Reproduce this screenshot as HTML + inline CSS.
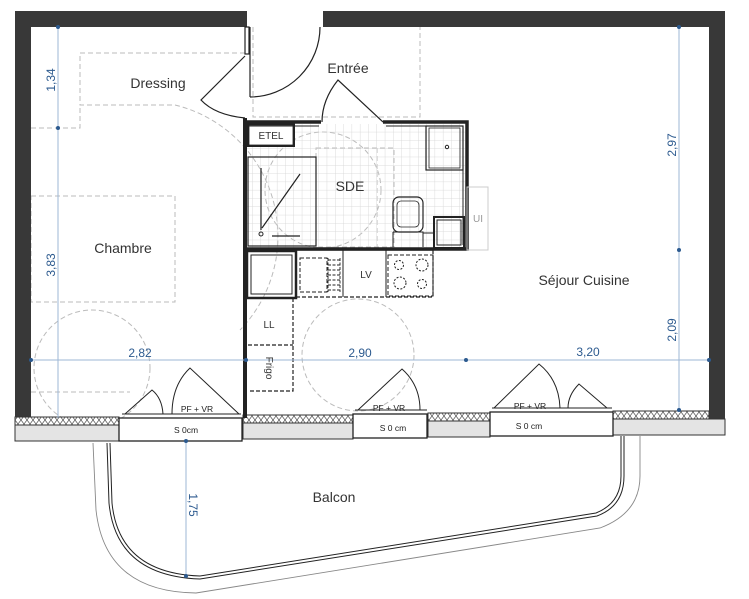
<!DOCTYPE html>
<html><head><meta charset="utf-8"><style>
html,body{margin:0;padding:0;background:#fff;}
svg{display:block;}
text{font-family:"Liberation Sans","DejaVu Sans",sans-serif;}
</style></head><body>
<svg width="749" height="599" viewBox="0 0 749 599" xmlns="http://www.w3.org/2000/svg">
<defs>
<pattern id="grid" width="8.3" height="8.3" patternUnits="userSpaceOnUse" x="294" y="124">
<path d="M8.3 0V8.3H0" fill="none" stroke="#d4d4d4" stroke-width="0.8"/>
</pattern>
<pattern id="hatch" width="6" height="8" patternUnits="userSpaceOnUse">
<rect width="6" height="8" fill="#fff"/>
<path d="M0 0L3 4L0 8M6 0L3 4L6 8" fill="none" stroke="#555" stroke-width="0.7"/>
</pattern>
</defs>

<!-- dashed furniture / circles -->
<g fill="none" stroke="#bbb" stroke-width="1" stroke-dasharray="5,3">
<path d="M245 53H80V105H175"/>
<path d="M31 128H80V105"/>
<path d="M253 27V117H420V27"/>
<rect x="31" y="196" width="144" height="106"/>
<path d="M175 105 A135 135 0 0 1 240 330"/>
<circle cx="92" cy="368" r="58"/>
<path d="M31 392H130"/>
<circle cx="323" cy="190" r="58"/>
<rect x="316" y="148" width="78" height="99"/>
<path d="M377 148V247"/>
<circle cx="358" cy="355" r="56"/>
</g>

<!-- SDE tiles -->
<rect x="247" y="124" width="218" height="124" fill="url(#grid)"/>
<rect x="248" y="124" width="46" height="23" fill="#fff"/>

<!-- top wall -->
<rect x="15" y="11" width="232" height="16" fill="#383838"/>
<rect x="323" y="11" width="402" height="16" fill="#383838"/>
<!-- left wall -->
<rect x="15" y="11" width="16" height="416" fill="#383838"/>
<!-- right wall -->
<rect x="709" y="11" width="16" height="408" fill="#383838"/>

<!-- bottom walls -->
<rect x="15" y="417" width="104" height="8" fill="url(#hatch)" stroke="#333" stroke-width="1"/>
<rect x="15" y="425" width="104" height="16" fill="#e4e4e4" stroke="#333" stroke-width="1"/>
<rect x="243" y="415" width="110" height="8" fill="url(#hatch)" stroke="#333" stroke-width="1"/>
<rect x="243" y="423" width="110" height="16" fill="#e4e4e4" stroke="#333" stroke-width="1"/>
<rect x="428" y="413" width="62" height="8" fill="url(#hatch)" stroke="#333" stroke-width="1"/>
<rect x="428" y="421" width="62" height="16" fill="#e4e4e4" stroke="#333" stroke-width="1"/>
<rect x="613" y="411" width="96" height="8" fill="url(#hatch)" stroke="#333" stroke-width="1"/>
<rect x="613" y="419" width="112" height="16" fill="#e4e4e4" stroke="#333" stroke-width="1"/>

<!-- windows -->
<g fill="#fff" stroke="#222" stroke-width="1.3">
<rect x="119" y="418" width="123" height="23"/>
<rect x="353" y="414" width="74" height="24"/>
<rect x="490" y="412" width="123" height="24"/>
</g>
<g fill="none" stroke="#222" stroke-width="1">
<path d="M122 414H241M122 418H241M355 410H427M355 414H427M492 408H612M492 412H612"/>
<!-- window 1 leaves -->
<path d="M125 414L152 390Q162 398 163 414"/>
<path d="M239 414L190 368Q172 385 172 414"/>
<!-- window 2 -->
<path d="M358 410L402 369Q420 385 420 410"/>
<!-- window 3 -->
<path d="M494 408L539 364Q559 380 560 408"/>
<path d="M607 408L579 384Q568 395 568 408"/>
</g>
<g font-size="8.5" fill="#222" text-anchor="middle">
<text x="197" y="412">PF + VR</text>
<text x="186" y="433">S 0cm</text>
<text x="389" y="411">PF + VR</text>
<text x="393" y="431">S 0 cm</text>
<text x="530" y="409">PF + VR</text>
<text x="529" y="429">S 0 cm</text>
</g>

<!-- entrance door -->
<g fill="none" stroke="#222" stroke-width="1.2">
<path d="M250 27V97"/>
<path d="M250 97 A70 70 0 0 0 320 27"/>
<rect x="245" y="27" width="4" height="27" fill="#fff"/>
<!-- dressing door -->
<path d="M245 56L201 100Q215 115 245 118"/>
<!-- SDE door -->
<path d="M383 122L338 80Q322 100 322 122"/>
</g>

<!-- SDE block walls -->
<g fill="none" stroke="#222">
<path d="M245 118V418" stroke-width="4"/>
<path d="M245 122H321M383 122H467V249H245" stroke-width="3.5"/>
<path d="M249 126H319M386 126H463V245" stroke-width="1"/>
<rect x="248" y="124" width="46" height="22" stroke-width="2"/>
<rect x="249" y="125" width="44" height="20" stroke-width="0.8"/>
<rect x="248" y="157" width="68" height="89" stroke-width="1.2"/>
<path d="M261 168V230M262 228L300 174M272 236H300" stroke-width="1.2"/>
<circle cx="261" cy="234" r="2" stroke-width="1"/>
<rect x="426" y="126" width="37" height="44" stroke-width="1.2"/>
<rect x="429" y="128" width="31" height="40" stroke-width="0.8"/>
<circle cx="447" cy="147" r="1.7" stroke-width="1"/>
<rect x="393" y="197" width="30" height="35" rx="6" stroke-width="1.2"/>
<rect x="397" y="201" width="22" height="26" rx="4" stroke-width="0.8"/>
<path d="M393 232H423V247M393 232V247M423 233H433" stroke-width="1"/>
<rect x="434" y="217" width="30" height="31" stroke-width="2"/>
<rect x="437" y="220" width="24" height="25" stroke-width="1"/>
<rect x="467" y="187" width="21" height="63" stroke="#ccc" stroke-width="1"/>
</g>

<!-- kitchen -->
<g fill="none" stroke="#222">
<rect x="247" y="251" width="49" height="47" stroke-width="2.5"/>
<rect x="251" y="255" width="41" height="39" stroke-width="1"/>
<path d="M296 250H433" stroke-width="1.2"/>
<path d="M296 297H433V250" stroke-width="1.2" stroke-dasharray="4,2"/>
<rect x="300" y="258" width="27" height="34" stroke-width="1" stroke-dasharray="4,2"/>
<path d="M328 260H340M328 265H340M328 270H340M328 275H340M328 280H340M328 285H340M328 290H340M328 258V292M340 258V292" stroke-width="0.9" stroke-dasharray="3,1.5"/>
<path d="M343 250V297M386 250V297" stroke-width="1"/>
<rect x="388" y="255" width="45" height="41" stroke-width="1" stroke-dasharray="4,2"/>
<circle cx="399" cy="265" r="4.5" stroke-width="1" stroke-dasharray="2,1.5"/>
<circle cx="422" cy="265" r="6" stroke-width="1" stroke-dasharray="2,1.5"/>
<circle cx="400" cy="283" r="6" stroke-width="1" stroke-dasharray="2,1.5"/>
<circle cx="422" cy="284" r="4.5" stroke-width="1" stroke-dasharray="2,1.5"/>
<path d="M293 298V391H248M248 345H293" stroke-width="1.2" stroke-dasharray="4,2"/>
</g>

<!-- balcony -->
<g fill="none" stroke="#222">
<path d="M107 443L109 503Q116 576 200 579L597 516Q624 506 624 476L624 436" stroke-width="1"/>
<path d="M110 443L112 503Q119 573 200 576L596 513Q621 503 621 476L621 436" stroke-width="1"/>
<path d="M93 443L96 510Q105 592 196 593L600 528Q640 513 640 476L640 436" stroke="#888" stroke-width="0.9"/>
</g>

<!-- dimensions -->
<g stroke="#9db7d6" stroke-width="1" fill="none">
<path d="M58 27V418M31 360H709M679 27V411M186 441V576"/>
</g>
<g fill="#2c5a8f">
<circle cx="58" cy="27" r="2"/><circle cx="58" cy="128" r="2"/>
<circle cx="31" cy="360" r="2"/><circle cx="246" cy="360" r="2"/><circle cx="466" cy="360" r="2"/><circle cx="709" cy="360" r="2"/>
<circle cx="679" cy="27" r="2"/><circle cx="679" cy="250" r="2"/><circle cx="679" cy="410" r="2"/>
<circle cx="186" cy="441" r="2"/><circle cx="186" cy="576" r="2"/>
</g>
<g font-size="12" fill="#2c5a8f" text-anchor="middle">
<text x="140" y="357">2,82</text>
<text x="360" y="357">2,90</text>
<text x="588" y="356">3,20</text>
<text transform="translate(55,80) rotate(-90)">1,34</text>
<text transform="translate(55,265) rotate(-90)">3,83</text>
<text transform="translate(676,145) rotate(-90)">2,97</text>
<text transform="translate(676,330) rotate(-90)">2,09</text>
<text transform="translate(189,505) rotate(90)">1,75</text>
</g>

<!-- labels -->
<g fill="#333" text-anchor="middle">
<text x="158" y="88" font-size="14">Dressing</text>
<text x="348" y="73" font-size="14">Entrée</text>
<text x="350" y="191" font-size="14">SDE</text>
<text x="123" y="253" font-size="14">Chambre</text>
<text x="584" y="285" font-size="14">Séjour Cuisine</text>
<text x="334" y="502" font-size="14">Balcon</text>
<text x="271" y="139" font-size="10">ETEL</text>
<text x="366" y="278" font-size="10">LV</text>
<text x="269" y="328" font-size="10">LL</text>
<text x="478" y="222" font-size="10" fill="#999">UI</text>
<text transform="translate(266,368) rotate(90)" font-size="10">Frigo</text>
</g>
</svg>
</body></html>
